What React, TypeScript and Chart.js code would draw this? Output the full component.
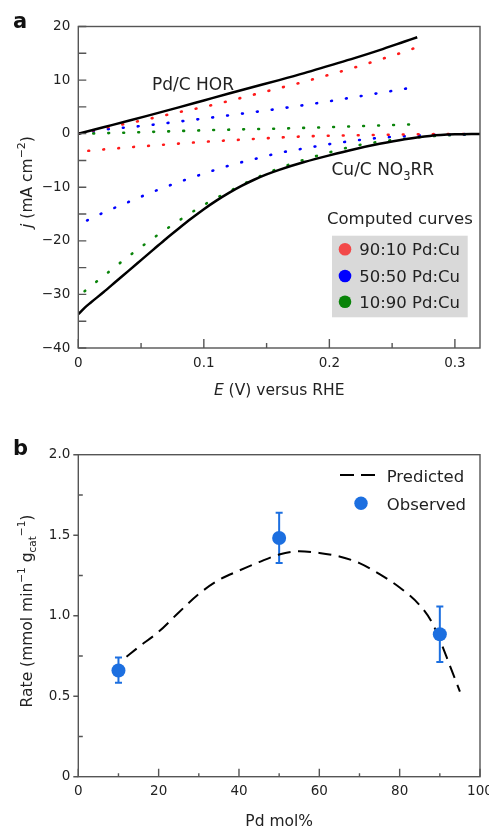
import { useEffect, useRef } from "react";
import { Chart, registerables } from "chart.js";

Chart.register(...registerables);

const FONT = '"DejaVu Sans", "Noto Sans", sans-serif';
const TEXT = "#222";
const FRAME = "#555";

// ---------------- Panel a data ----------------
// Pd/C HOR (solid black)
const horE = [0, 0.02, 0.04, 0.06, 0.08, 0.1, 0.12, 0.14, 0.16, 0.18, 0.2, 0.22, 0.24, 0.26, 0.27];
const horJ = [0, 1.2, 2.4, 3.65, 4.9, 6.2, 7.5, 8.75, 10.0, 11.3, 12.7, 14.1, 15.6, 17.2, 18.0];
// Cu/C NO3RR (solid black)
const no3E = [0, 0.005, 0.01, 0.02, 0.03, 0.04, 0.05, 0.06, 0.07, 0.08, 0.09, 0.1, 0.11, 0.12, 0.13, 0.14, 0.15, 0.16, 0.18, 0.2, 0.22, 0.24, 0.26, 0.28, 0.3, 0.32];
const no3J = [-33.7, -32.5, -31.5, -29.6, -27.6, -25.6, -23.6, -21.6, -19.6, -17.7, -15.85, -14.1, -12.5, -11.05, -9.75, -8.6, -7.6, -6.75, -5.3, -4.05, -2.9, -1.9, -1.05, -0.42, -0.13, -0.04];
// 90:10 Pd:Cu computed (red dotted)
const redUpE = [0, 0.012, 0.024, 0.04, 0.06, 0.08, 0.1, 0.12, 0.14, 0.16, 0.18, 0.2, 0.22, 0.24, 0.26, 0.267];
const redUpJ = [0, 0.62, 1.24, 1.95, 2.95, 4.0, 5.0, 6.1, 7.3, 8.5, 9.7, 11.0, 12.35, 13.8, 15.3, 15.9];
const redLoE = [0.008, 0.02, 0.04, 0.06, 0.08, 0.1, 0.12, 0.14, 0.16, 0.18, 0.2, 0.22, 0.24, 0.26, 0.28, 0.31];
const redLoJ = [-3.2, -2.95, -2.55, -2.2, -1.85, -1.52, -1.25, -0.98, -0.72, -0.52, -0.38, -0.3, -0.22, -0.15, -0.1, -0.05];
// 50:50 Pd:Cu computed (blue dotted)
const blueUpE = [0, 0.012, 0.024, 0.04, 0.06, 0.08, 0.1, 0.12, 0.14, 0.16, 0.18, 0.2, 0.22, 0.24, 0.262];
const blueUpJ = [0, 0.5, 0.85, 1.2, 1.68, 2.25, 2.82, 3.42, 4.03, 4.66, 5.33, 6.05, 6.82, 7.6, 8.45];
const blueLoE = [0.007, 0.02, 0.04, 0.06, 0.08, 0.1, 0.12, 0.14, 0.16, 0.18, 0.2, 0.22, 0.24, 0.26, 0.28, 0.31];
const blueLoJ = [-16.2, -14.75, -12.75, -10.8, -9.05, -7.45, -5.97, -4.75, -3.6, -2.75, -1.95, -1.3, -0.78, -0.47, -0.25, -0.08];
// 10:90 Pd:Cu computed (green dotted)
const greenUpE = [0, 0.012, 0.04, 0.07, 0.1, 0.13, 0.16, 0.19, 0.22, 0.25, 0.264];
const greenUpJ = [0, 0.05, 0.2, 0.42, 0.63, 0.8, 0.95, 1.15, 1.38, 1.6, 1.73];
const greenLoE = [0.005, 0.02, 0.04, 0.06, 0.08, 0.1, 0.12, 0.14, 0.16, 0.18, 0.2, 0.22, 0.24, 0.26, 0.28, 0.31];
const greenLoJ = [-29.4, -26.6, -22.9, -19.45, -16.25, -13.3, -10.8, -8.45, -6.45, -4.85, -3.5, -2.3, -1.5, -0.95, -0.5, -0.15];

const legendLabelsA = ["90:10 Pd:Cu", "50:50 Pd:Cu", "10:90 Pd:Cu"];
const legendColorsA = ["#f24848", "#0000ff", "#0a840a"];

const xTicksA = [0, 0.1, 0.2, 0.3];
const xTickLabelsA = ["0", "0.1", "0.2", "0.3"];
const xMinorA = [0.05, 0.15, 0.25];
const yTicksA = [-40, -30, -20, -10, 0, 10, 20];
const yTickLabelsA = ["\u221240", "\u221230", "\u221220", "\u221210", "0", "10", "20"];
const yMinorA = [-35, -25, -15, -5, 5, 15];

// ---------------- Panel b data ----------------
const predPd = [12, 15, 20, 25, 30, 35, 40, 45, 50, 55, 60, 65, 70, 75, 80, 85, 88, 90, 92.5, 95];
const predRate = [0.745, 0.805, 0.9, 1.02, 1.135, 1.222, 1.28, 1.333, 1.38, 1.4, 1.39, 1.368, 1.327, 1.258, 1.175, 1.065, 0.96, 0.85, 0.69, 0.528];
const obsPd = [10, 50, 90];
const obsRate = [0.66, 1.483, 0.885];
const obsLow = [0.583, 1.327, 0.712];
const obsHigh = [0.741, 1.64, 1.057];

const xTicksB = [0, 20, 40, 60, 80, 100];
const xTickLabelsB = ["0", "20", "40", "60", "80", "100"];
const xMinorB = [10, 30, 50, 70, 90];
const yTicksB = [0, 0.5, 1, 1.5, 2];
const yTickLabelsB = ["0", "0.5", "1.0", "1.5", "2.0"];
const yMinorB = [0.25, 0.75, 1.25, 1.75];

const OBS_COLOR = "#1c6fe0";

// ---------------- helpers ----------------
type Seg = { t: string; size: number; dy?: number; italic?: boolean; bold?: boolean };

function segFont(s: Seg) {
  return `${s.italic ? "italic " : ""}${s.bold ? "bold " : ""}${s.size}px ${FONT}`;
}

function drawRich(ctx: CanvasRenderingContext2D, segs: Seg[], x: number, y: number, align: "left" | "center") {
  ctx.save();
  ctx.textBaseline = "alphabetic";
  ctx.textAlign = "left";
  let w = 0;
  for (const s of segs) {
    ctx.font = segFont(s);
    w += ctx.measureText(s.t).width;
  }
  let cx = align === "center" ? x - w / 2 : x;
  for (const s of segs) {
    ctx.font = segFont(s);
    ctx.fillText(s.t, cx, y + (s.dy || 0));
    cx += ctx.measureText(s.t).width;
  }
  ctx.restore();
}

type FrameCfg = {
  xMajor: number[];
  xMinor: number[];
  yMajor: number[];
  yMinor: number[];
  xMajorLen: number;
  xMinorLen: number;
  yMajorLen: number;
  yMinorLen: number;
};

function makeFrame(cfg: FrameCfg) {
  return {
    id: "frameTicks",
    afterDraw(chart: any) {
      const { ctx, chartArea: a, scales } = chart;
      const xs = scales.x;
      const ys = scales.y;
      ctx.save();
      ctx.strokeStyle = FRAME;
      ctx.lineWidth = 1.4;
      ctx.beginPath();
      for (const v of cfg.xMajor) {
        const p = xs.getPixelForValue(v);
        ctx.moveTo(p, a.bottom);
        ctx.lineTo(p, a.bottom - cfg.xMajorLen);
      }
      for (const v of cfg.xMinor) {
        const p = xs.getPixelForValue(v);
        ctx.moveTo(p, a.bottom);
        ctx.lineTo(p, a.bottom - cfg.xMinorLen);
      }
      for (const v of cfg.yMajor) {
        const p = ys.getPixelForValue(v);
        ctx.moveTo(a.left, p);
        ctx.lineTo(a.left + cfg.yMajorLen, p);
      }
      for (const v of cfg.yMinor) {
        const p = ys.getPixelForValue(v);
        ctx.moveTo(a.left, p);
        ctx.lineTo(a.left + cfg.yMinorLen, p);
      }
      ctx.stroke();
      ctx.strokeRect(a.left, a.top, a.right - a.left, a.bottom - a.top);
      ctx.restore();
    },
  };
}

const pts = (xs: number[], ys: number[]) => xs.map((x, i) => ({ x, y: ys[i] }));

const solid = (xs: number[], ys: number[]) => ({
  data: pts(xs, ys),
  showLine: true,
  borderColor: "#000",
  backgroundColor: "#000",
  borderWidth: 2.5,
  pointRadius: 0,
  cubicInterpolationMode: "monotone",
});

const dotted = (xs: number[], ys: number[], color: string) => ({
  data: pts(xs, ys),
  showLine: true,
  borderColor: color,
  backgroundColor: color,
  borderWidth: 2.6,
  borderDash: [0.8, 14.2],
  borderCapStyle: "round",
  pointRadius: 0,
  cubicInterpolationMode: "monotone",
});

const tickFont = { family: FONT, size: 13.5 };

function fixScale(dim: "width" | "height", size: number) {
  return (s: any) => {
    s[dim] = size;
    s.paddingLeft = 0;
    s.paddingRight = 0;
    s.paddingTop = 0;
    s.paddingBottom = 0;
  };
}

export default function App() {
  const refA = useRef<HTMLCanvasElement>(null);
  const refB = useRef<HTMLCanvasElement>(null);

  useEffect(() => {
    // ---------- chart a ----------
    const textA = {
      id: "textA",
      afterDraw(chart: any) {
        const ctx: CanvasRenderingContext2D = chart.ctx;
        ctx.save();
        ctx.fillStyle = "#111";
        drawRich(ctx, [{ t: "a", size: 21, bold: true }], 13, 28, "left");
        ctx.fillStyle = TEXT;
        drawRich(ctx, [{ t: "Pd/C HOR", size: 17 }], 152, 90, "left");
        drawRich(
          ctx,
          [
            { t: "Cu/C NO", size: 17 },
            { t: "3", size: 11.5, dy: 4.5 },
            { t: "RR", size: 17 },
          ],
          331.5,
          175,
          "left"
        );
        drawRich(ctx, [{ t: "Computed curves", size: 16.5 }], 327, 224, "left");
        ctx.fillStyle = "#d9d9d9";
        ctx.fillRect(332, 235.7, 135.7, 81.6);
        const ys = [249.3, 276, 301.7];
        legendLabelsA.forEach((lab, i) => {
          ctx.fillStyle = legendColorsA[i];
          ctx.beginPath();
          ctx.arc(345, ys[i], 6.3, 0, Math.PI * 2);
          ctx.fill();
          ctx.fillStyle = TEXT;
          drawRich(ctx, [{ t: lab, size: 16.5 }], 359.3, ys[i] + 6, "left");
        });
        const a = chart.chartArea;
        drawRich(
          ctx,
          [
            { t: "E", size: 15.5, italic: true },
            { t: " (V) versus RHE", size: 15.5 },
          ],
          (a.left + a.right) / 2,
          395.3,
          "center"
        );
        ctx.save();
        ctx.translate(31.5, 182);
        ctx.rotate(-Math.PI / 2);
        drawRich(
          ctx,
          [
            { t: "j", size: 15.5, italic: true },
            { t: " (mA cm", size: 15.5 },
            { t: "\u22122", size: 11, dy: -6.5 },
            { t: ")", size: 15.5 },
          ],
          0,
          0,
          "center"
        );
        ctx.restore();
        ctx.restore();
      },
    };

    const chartA = new Chart(refA.current as HTMLCanvasElement, {
      type: "scatter",
      data: {
        datasets: [
          solid(horE, horJ),
          solid(no3E, no3J),
          dotted(redUpE, redUpJ, "#ff1a1a"),
          dotted(redLoE, redLoJ, "#ff1a1a"),
          dotted(blueUpE, blueUpJ, "#0000ff"),
          dotted(blueLoE, blueLoJ, "#0000ff"),
          dotted(greenUpE, greenUpJ, "#0a840a"),
          dotted(greenLoE, greenLoJ, "#0a840a"),
        ] as any,
      },
      options: {
        animation: false,
        responsive: false,
        devicePixelRatio: 1,
        events: [],
        layout: { padding: { left: 0, top: 26.5, right: 9, bottom: 0 } },
        plugins: { legend: { display: false }, tooltip: { enabled: false } },
        scales: {
          x: {
            type: "linear",
            min: 0,
            max: 0.32,
            afterBuildTicks: (s: any) => {
              s.ticks = xTicksA.map((v) => ({ value: v }));
            },
            afterFit: fixScale("height", 62),
            grid: { display: false, drawTicks: false },
            border: { display: false },
            ticks: {
              autoSkip: false,
              maxRotation: 0,
              padding: 7,
              color: TEXT,
              font: tickFont,
              callback: (v: any) => xTickLabelsA[xTicksA.indexOf(Number(v))] ?? "",
            },
          },
          y: {
            type: "linear",
            min: -40,
            max: 20,
            afterBuildTicks: (s: any) => {
              s.ticks = yTicksA.map((v) => ({ value: v }));
            },
            afterFit: fixScale("width", 78.3),
            grid: { display: false, drawTicks: false },
            border: { display: false },
            ticks: {
              autoSkip: false,
              padding: 8,
              color: TEXT,
              font: tickFont,
              callback: (v: any) => yTickLabelsA[yTicksA.indexOf(Number(v))] ?? "",
            },
          },
        },
      } as any,
      plugins: [
        makeFrame({
          xMajor: xTicksA,
          xMinor: xMinorA,
          yMajor: yTicksA,
          yMinor: yMinorA,
          xMajorLen: 9,
          xMinorLen: 5,
          yMajorLen: 8,
          yMinorLen: 8,
        }),
        textA,
      ],
    });

    // ---------- chart b ----------
    const errPlugin = {
      id: "errBars",
      beforeDatasetsDraw(chart: any) {
        const { ctx, scales } = chart;
        ctx.save();
        ctx.strokeStyle = OBS_COLOR;
        ctx.lineWidth = 2;
        ctx.beginPath();
        obsPd.forEach((x, i) => {
          const px = scales.x.getPixelForValue(x);
          const lo = scales.y.getPixelForValue(obsLow[i]);
          const hi = scales.y.getPixelForValue(obsHigh[i]);
          ctx.moveTo(px, lo);
          ctx.lineTo(px, hi);
          ctx.moveTo(px - 3.5, lo);
          ctx.lineTo(px + 3.5, lo);
          ctx.moveTo(px - 3.5, hi);
          ctx.lineTo(px + 3.5, hi);
        });
        ctx.stroke();
        ctx.restore();
      },
    };

    const textB = {
      id: "textB",
      afterDraw(chart: any) {
        const ctx: CanvasRenderingContext2D = chart.ctx;
        ctx.save();
        ctx.fillStyle = "#111";
        drawRich(ctx, [{ t: "b", size: 21, bold: true }], 13, 45, "left");
        ctx.fillStyle = TEXT;
        ctx.save();
        ctx.strokeStyle = "#000";
        ctx.lineWidth = 2;
        ctx.setLineDash([14, 7]);
        ctx.beginPath();
        ctx.moveTo(340, 65);
        ctx.lineTo(377, 65);
        ctx.stroke();
        ctx.restore();
        drawRich(ctx, [{ t: "Predicted", size: 16.5 }], 386.7, 71.7, "left");
        ctx.fillStyle = OBS_COLOR;
        ctx.beginPath();
        ctx.arc(361, 93.3, 6.7, 0, Math.PI * 2);
        ctx.fill();
        ctx.fillStyle = TEXT;
        drawRich(ctx, [{ t: "Observed", size: 16.5 }], 386.7, 100, "left");
        const a = chart.chartArea;
        drawRich(ctx, [{ t: "Pd mol%", size: 15.5 }], (a.left + a.right) / 2, 416.3, "center");
        ctx.save();
        ctx.translate(31.5, 201);
        ctx.rotate(-Math.PI / 2);
        drawRich(
          ctx,
          [
            { t: "Rate (mmol min", size: 15.5 },
            { t: "\u22121", size: 10.5, dy: -6.5 },
            { t: " g", size: 15.5 },
            { t: "cat", size: 10.5, dy: 4 },
            { t: "\u22121", size: 10.5, dy: -6.5 },
            { t: ")", size: 15.5 },
          ],
          0,
          0,
          "center"
        );
        ctx.restore();
        ctx.restore();
      },
    };

    const chartB = new Chart(refB.current as HTMLCanvasElement, {
      type: "scatter",
      data: {
        datasets: [
          {
            data: pts(obsPd, obsRate),
            pointRadius: 7,
            pointBackgroundColor: OBS_COLOR,
            pointBorderWidth: 0,
            backgroundColor: OBS_COLOR,
            borderColor: OBS_COLOR,
            showLine: false,
          },
          {
            data: pts(predPd, predRate),
            showLine: true,
            borderColor: "#000",
            borderWidth: 2,
            borderDash: [13, 7.5],
            pointRadius: 0,
            cubicInterpolationMode: "monotone",
          },
        ] as any,
      },
      options: {
        animation: false,
        responsive: false,
        devicePixelRatio: 1,
        events: [],
        layout: { padding: { left: 0, top: 44.7, right: 9, bottom: 0 } },
        plugins: { legend: { display: false }, tooltip: { enabled: false } },
        scales: {
          x: {
            type: "linear",
            min: 0,
            max: 100,
            afterBuildTicks: (s: any) => {
              s.ticks = xTicksB.map((v) => ({ value: v }));
            },
            afterFit: fixScale("height", 51.3),
            grid: { display: false, drawTicks: false },
            border: { display: false },
            ticks: {
              autoSkip: false,
              maxRotation: 0,
              padding: 7,
              color: TEXT,
              font: tickFont,
              callback: (v: any) => xTickLabelsB[xTicksB.indexOf(Number(v))] ?? "",
            },
          },
          y: {
            type: "linear",
            min: 0,
            max: 2,
            afterBuildTicks: (s: any) => {
              s.ticks = yTicksB.map((v) => ({ value: v }));
            },
            afterFit: fixScale("width", 78.3),
            grid: { display: false, drawTicks: false },
            border: { display: false },
            ticks: {
              autoSkip: false,
              padding: 8,
              color: TEXT,
              font: tickFont,
              callback: (v: any) => yTickLabelsB[yTicksB.indexOf(Number(v))] ?? "",
            },
          },
        },
      } as any,
      plugins: [
        errPlugin,
        makeFrame({
          xMajor: xTicksB,
          xMinor: xMinorB,
          yMajor: yTicksB,
          yMinor: yMinorB,
          xMajorLen: 8,
          xMinorLen: 3.5,
          yMajorLen: -5,
          yMinorLen: 4.5,
        }),
        textB,
      ],
    });

    return () => {
      chartA.destroy();
      chartB.destroy();
    };
  }, []);

  return (
    <div style={{ position: "absolute", left: 0, top: 0, width: 489, height: 828, background: "#fff" }}>
      <canvas
        ref={refA}
        width={489}
        height={410}
        style={{ position: "absolute", left: 0, top: 0, width: 489, height: 410 }}
      />
      <canvas
        ref={refB}
        width={489}
        height={418}
        style={{ position: "absolute", left: 0, top: 410, width: 489, height: 418 }}
      />
    </div>
  );
}
